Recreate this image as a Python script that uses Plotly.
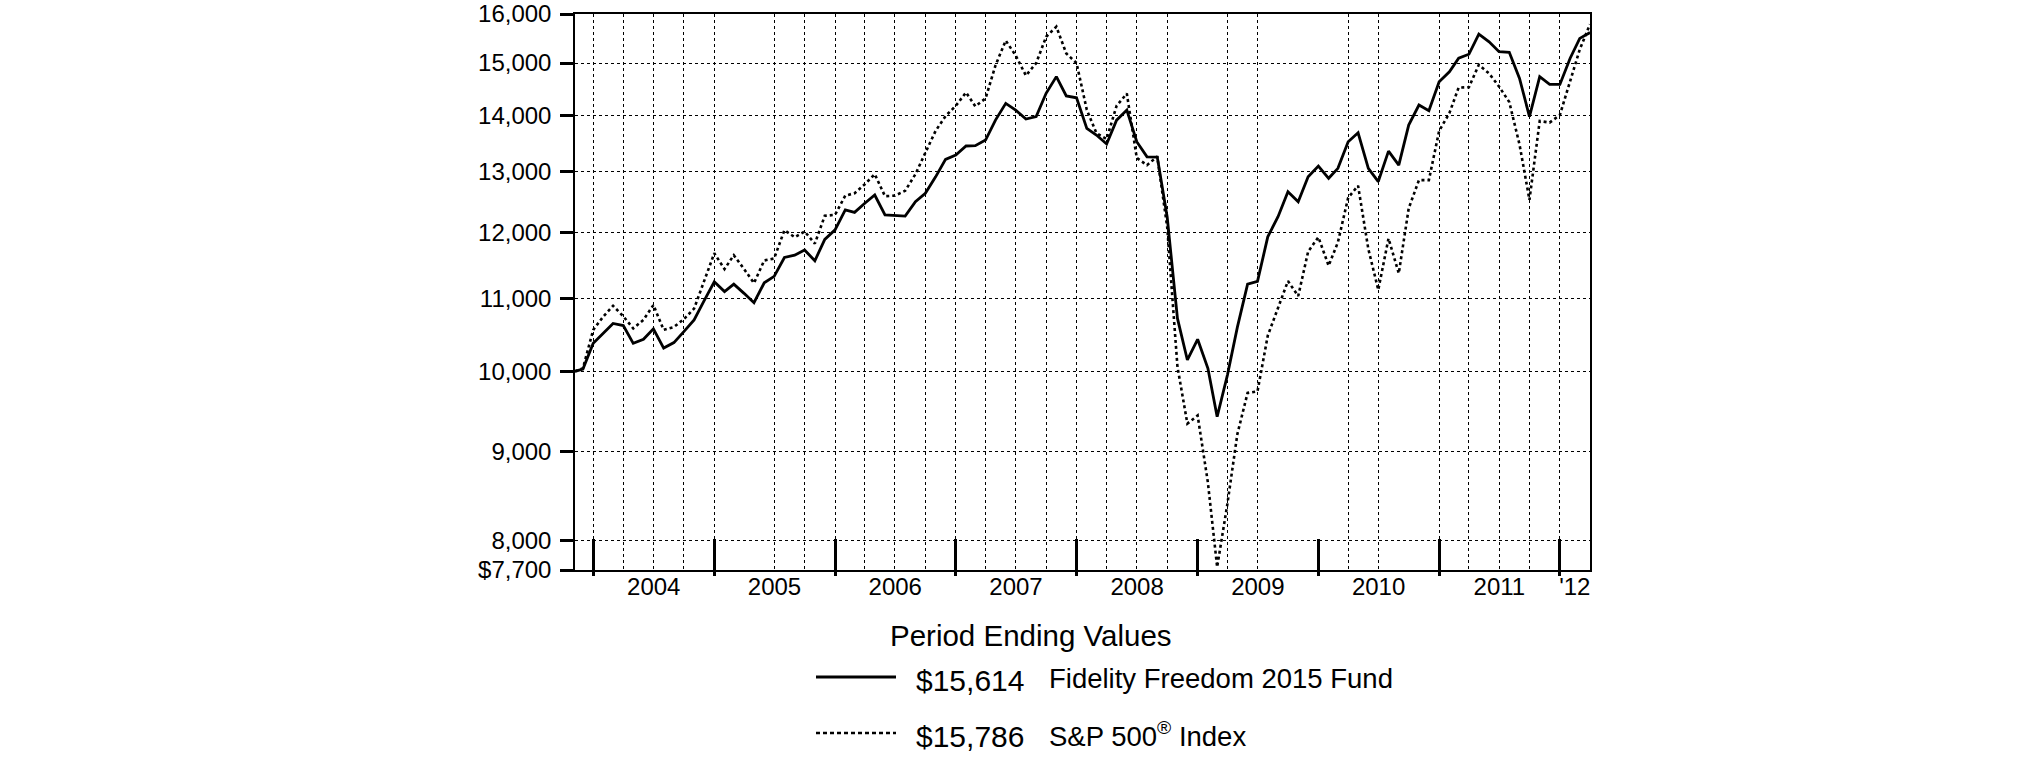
import math
import pandas as pd
import plotly.graph_objects as go

# ---------------- data ----------------
start_date = "2003-11-06"
month_ends = [d.strftime("%Y-%m-%d") for d in
              pd.date_range(start="2003-11-30", periods=101, freq=pd.offsets.MonthEnd())]
dates = [start_date] + month_ends

fund_2003 = [10000, 10030, 10375]
fund_2004 = [10510, 10650, 10620, 10375, 10430, 10575, 10310, 10385, 10535, 10700, 10970, 11250]
fund_2005 = [11105, 11215, 11080, 10945, 11235, 11330, 11615, 11650, 11730, 11565, 11895, 12045]
fund_2006 = [12365, 12325, 12475, 12610, 12285, 12280, 12265, 12500, 12640, 12915, 13215, 13290]
fund_2007 = [13450, 13455, 13555, 13915, 14225, 14100, 13935, 13980, 14415, 14735, 14365, 14330]
fund_2008 = [13765, 13645, 13485, 13915, 14100, 13525, 13260, 13255, 12250, 10720, 10150, 10430]
fund_2009 = [10040, 9420, 9950, 10595, 11215, 11255, 11935, 12255, 12665, 12500, 12915, 13100]
fund_2010 = [12890, 13060, 13525, 13685, 13060, 12835, 13360, 13115, 13825, 14195, 14090, 14635]
fund_2011 = [14830, 15095, 15175, 15580, 15425, 15225, 15215, 14700, 13980, 14735, 14585, 14585]
fund_2012 = [15095, 15495, 15614]

sp_2003 = [10000, 10040, 10560]
sp_2004 = [10750, 10900, 10750, 10580, 10700, 10910, 10560, 10600, 10710, 10860, 11250, 11680]
sp_2005 = [11440, 11650, 11440, 11230, 11570, 11600, 12040, 11930, 12020, 11830, 12270, 12285]
sp_2006 = [12600, 12640, 12790, 12960, 12590, 12600, 12680, 12960, 13330, 13720, 13990, 14180]
sp_2007 = [14430, 14170, 14320, 14955, 15450, 15150, 14755, 15000, 15527, 15735, 15190, 15000]
sp_2008 = [14105, 13680, 13575, 14180, 14410, 13240, 13115, 13265, 12090, 10060, 9335, 9435]
sp_2009 = [8640, 7730, 8400, 9205, 9720, 9740, 10480, 10855, 11260, 11040, 11705, 11930]
sp_2010 = [11490, 11850, 12565, 12765, 11745, 11130, 11910, 11375, 12390, 12860, 12860, 13720]
sp_2011 = [14045, 14525, 14530, 14965, 14795, 14545, 14250, 13475, 12530, 13900, 13870, 14010]
sp_2012 = [14640, 15270, 15786]

fund = (fund_2003 + fund_2004 + fund_2005 + fund_2006 + fund_2007 + fund_2008
        + fund_2009 + fund_2010 + fund_2011 + fund_2012)
sp500 = (sp_2003 + sp_2004 + sp_2005 + sp_2006 + sp_2007 + sp_2008
         + sp_2009 + sp_2010 + sp_2011 + sp_2012)

fund_name = "Fidelity Freedom 2015 Fund"
index_name = "S&P 500<sup>®</sup> Index"
fund_end_label = "$15,614"
index_end_label = "$15,786"
legend_title = "Period Ending Values"

y_tickvals = [7700, 8000, 9000, 10000, 11000, 12000, 13000, 14000, 15000, 16000]
y_ticktext = ["$7,700", "8,000", "9,000", "10,000", "11,000", "12,000",
              "13,000", "14,000", "15,000", "16,000"]

year_end_ticks = ["2003-12-31", "2004-12-31", "2005-12-31", "2006-12-31", "2007-12-31",
                  "2008-12-31", "2009-12-31", "2010-12-31", "2011-12-31"]
year_label_pos = ["2004-07-01", "2005-07-01", "2006-07-01", "2007-07-01", "2008-07-01",
                  "2009-07-01", "2010-07-01", "2011-07-01", "2012-02-14"]
year_labels = ["2004", "2005", "2006", "2007", "2008", "2009", "2010", "2011", "'12"]
grid_dates = ["2003-12-31", "2004-03-31", "2004-06-30", "2004-09-30", "2004-12-31",
              "2005-06-30", "2005-09-30", "2005-12-31",
              "2006-03-31", "2006-06-30", "2006-09-30", "2006-12-31",
              "2007-03-31", "2007-06-30", "2007-09-30", "2007-12-31",
              "2008-03-31", "2008-06-30", "2008-09-30",
              "2009-03-31", "2009-06-30",
              "2010-03-31", "2010-06-30", "2010-12-31",
              "2011-03-31", "2011-06-30", "2011-09-30", "2011-12-31"]

x_range = ["2003-11-06", "2012-03-31"]
y_range = [math.log10(7700), math.log10(16000)]

FONT = "Liberation Sans, Arial, Helvetica, sans-serif"

# target plot-area box in page pixels
PX0, PX1, PY0, PY1 = 575, 1590, 14, 570
FIG_W, FIG_H = 2025, 783

# ---------------- figure ----------------
fig = go.Figure()
fig.add_trace(go.Scatter(x=dates, y=sp500, mode="lines", name=index_name,
                         line=dict(color="black", width=2.6, dash="3px,3px"),
                         showlegend=False))
fig.add_trace(go.Scatter(x=dates, y=fund, mode="lines", name=fund_name,
                         line=dict(color="black", width=2.8),
                         showlegend=False))
# anchor traces for overlay axes (no visible marks)
for ax in ["x2", "x3", "x4"]:
    fig.add_trace(go.Scatter(x=[dates[0]], y=[fund[0]], mode="none", xaxis=ax,
                             showlegend=False, hoverinfo="skip"))

common_x = dict(type="date", range=x_range, zeroline=False, automargin=False)
fig.update_layout(
    template="none",
    width=FIG_W, height=FIG_H, autosize=False,
    margin=dict(l=PX0, r=FIG_W - PX1, t=PY0, b=FIG_H - PY1, pad=0, autoexpand=False),
    paper_bgcolor="white", plot_bgcolor="white",
    font=dict(family=FONT, color="black"),
    xaxis=dict(**common_x, showgrid=False, tickvals=year_end_ticks, ticks="inside",
               ticklen=31, tickwidth=3, tickcolor="black", showticklabels=False,
               showline=True, linecolor="black", linewidth=1.5, mirror=True),
    xaxis2=dict(**common_x, overlaying="x", anchor="y", tickvals=grid_dates,
                showgrid=True, gridcolor="black", gridwidth=1, griddash="dot",
                ticks="", showticklabels=False, showline=False),
    xaxis3=dict(**common_x, overlaying="x", anchor="y", tickvals=year_label_pos,
                ticktext=year_labels, ticks="", showticklabels=True, showgrid=False,
                showline=False, tickfont=dict(size=24, family=FONT, color="black")),
    xaxis4=dict(**common_x, overlaying="x", anchor="y", tickvals=year_end_ticks,
                ticks="outside", ticklen=5, tickwidth=3, tickcolor="black",
                showticklabels=False, showgrid=False, showline=False),
    yaxis=dict(type="log", range=y_range, tickvals=y_tickvals, ticktext=y_ticktext,
               ticks="outside", ticklen=13, tickwidth=3, tickcolor="black",
               ticklabelstandoff=4, ticklabeloverflow="allow",
               showgrid=True, gridcolor="black", gridwidth=1, griddash="dot",
               showline=True, linecolor="black", linewidth=1.5, mirror=True,
               zeroline=False, automargin=False,
               tickfont=dict(size=24, family=FONT, color="black")),
    showlegend=False,
)

# ---------------- legend (drawn below the plot) ----------------
def pxx(v):
    return (v - PX0) / (PX1 - PX0)

def pyy(v):
    return (PY1 - v) / (PY1 - PY0)

row_y = [680, 736]
fig.add_annotation(x=pxx(1031), y=pyy(635), xref="paper", yref="paper",
                   text=legend_title, showarrow=False, xanchor="center", yanchor="middle",
                   font=dict(size=29.5, family=FONT, color="black"))
rows = [(fund_end_label, fund_name, "solid"), (index_end_label, index_name, "4px,3px")]
for (amt, name, dash), ry in zip(rows, row_y):
    fig.add_shape(type="line", xref="paper", yref="paper",
                  x0=pxx(816), x1=pxx(896), y0=pyy(ry - 3), y1=pyy(ry - 3),
                  line=dict(color="black", width=2.8 if dash == "solid" else 2.6, dash=dash))
    fig.add_annotation(x=pxx(914), y=pyy(ry), xref="paper", yref="paper", text=amt,
                       showarrow=False, xanchor="left", yanchor="middle",
                       font=dict(size=30, family=FONT, color="black"))
    fig.add_annotation(x=pxx(1047), y=pyy(ry - 2), xref="paper", yref="paper", text=name,
                       showarrow=False, xanchor="left", yanchor="middle",
                       font=dict(size=27.5, family=FONT, color="black"))

fig.write_html(
    "out.html",
    config={"displayModeBar": False},
    post_script="document.body.style.margin='0px';document.body.style.overflow='hidden';",
)
